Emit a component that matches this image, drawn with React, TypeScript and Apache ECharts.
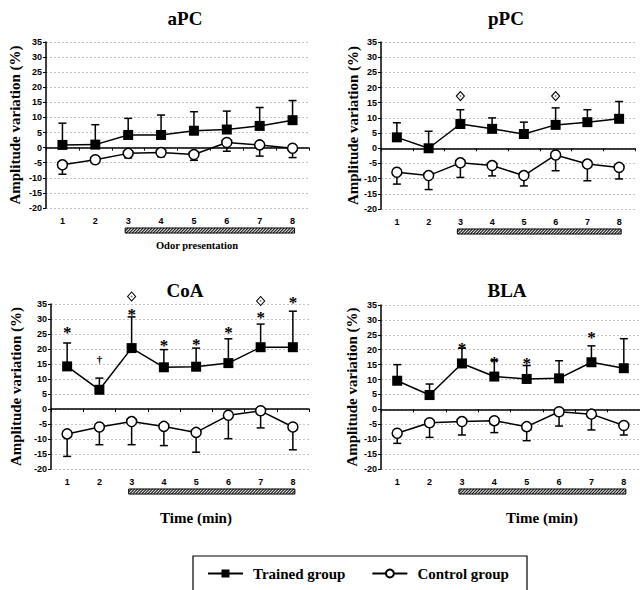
import React, { useEffect, useRef } from "react";
import * as echarts from "echarts";

const categories = ["1", "2", "3", "4", "5", "6", "7", "8"];
const yTicksMin = -20;
const yTicksMax = 35;
const yTickStep = 5;

const panelTitles = ["aPC", "pPC", "CoA", "BLA"];

// aPC
const trainedAPC = [0.9, 1.0, 4.2, 4.2, 5.6, 6.0, 7.2, 9.1];
const trainedAPCErr = [7.2, 6.6, 5.5, 6.6, 6.3, 6.1, 6.1, 6.5];
const controlAPC = [-5.7, -4.0, -1.9, -1.6, -2.3, 1.7, 0.9, -0.2];
const controlAPCErr = [3.1, 0.8, 1.5, 1.4, 1.9, 2.9, 3.7, 3.1];
const marksAPC: { cat: number; y: number; mark: string }[] = [];

// pPC
const trainedPPC = [3.6, 0.0, 8.0, 6.4, 4.7, 7.7, 8.6, 9.7];
const trainedPPCErr = [4.8, 5.6, 4.7, 3.6, 3.9, 5.6, 4.1, 5.7];
const controlPPC = [-7.9, -9.0, -4.8, -5.7, -9.0, -2.2, -5.2, -6.3];
const controlPPCErr = [3.9, 4.6, 4.8, 3.4, 3.4, 5.2, 5.5, 3.8];
const marksPPC = [
  { cat: 2, y: 17.2, mark: "◇" },
  { cat: 5, y: 17.2, mark: "◇" },
];

// CoA
const trainedCoA = [14.2, 6.4, 20.3, 13.9, 14.1, 15.3, 20.6, 20.6];
const trainedCoAErr = [7.8, 3.9, 10.4, 5.9, 6.2, 8.1, 7.7, 12.0];
const controlCoA = [-8.3, -6.0, -4.2, -5.8, -7.8, -2.1, -0.6, -6.0];
const controlCoAErr = [7.5, 5.9, 7.7, 6.4, 6.6, 7.8, 5.7, 7.6];
const marksCoA = [
  { cat: 0, y: 26.7, mark: "*" },
  { cat: 1, y: 16.7, mark: "†" },
  { cat: 2, y: 33.0, mark: "*" },
  { cat: 2, y: 37.5, mark: "◇" },
  { cat: 3, y: 22.6, mark: "*" },
  { cat: 4, y: 22.8, mark: "*" },
  { cat: 5, y: 27.0, mark: "*" },
  { cat: 6, y: 32.0, mark: "*" },
  { cat: 6, y: 36.0, mark: "◇" },
  { cat: 7, y: 36.8, mark: "*" },
];

// BLA
const trainedBLA = [9.6, 4.8, 15.4, 11.0, 10.2, 10.4, 15.8, 13.8];
const trainedBLAErr = [5.4, 3.7, 5.1, 5.5, 4.5, 5.9, 5.5, 9.9];
const controlBLA = [-8.0, -4.5, -4.1, -3.8, -5.8, -0.8, -1.6, -5.4];
const controlBLAErr = [3.4, 4.9, 4.5, 4.0, 4.7, 4.8, 5.3, 3.2];
const marksBLA = [
  { cat: 2, y: 21.9, mark: "*" },
  { cat: 3, y: 17.1, mark: "*" },
  { cat: 4, y: 16.8, mark: "*" },
  { cat: 6, y: 25.5, mark: "*" },
];

// odor presentation period (category indices, from minute 3 to minute 8)
const odorPeriod = [2, 7];

const trainedName = "Trained group";
const controlName = "Control group";

const panels = [
  { trained: trainedAPC, tErr: trainedAPCErr, control: controlAPC, cErr: controlAPCErr, marks: marksAPC },
  { trained: trainedPPC, tErr: trainedPPCErr, control: controlPPC, cErr: controlPPCErr, marks: marksPPC },
  { trained: trainedCoA, tErr: trainedCoAErr, control: controlCoA, cErr: controlCoAErr, marks: marksCoA },
  { trained: trainedBLA, tErr: trainedBLAErr, control: controlBLA, cErr: controlBLAErr, marks: marksBLA },
];

const grids = [
  { left: 46, top: 42, width: 263, height: 166, nameGap: 24, titleX: 185, titleY: 18 },
  { left: 381, top: 42, width: 254, height: 167, nameGap: 21, titleX: 506, titleY: 18 },
  { left: 51, top: 304, width: 258, height: 165, nameGap: 28, titleX: 185, titleY: 290 },
  { left: 381, top: 305, width: 262, height: 164, nameGap: 22, titleX: 507, titleY: 290 },
];

const SERIF = '"Liberation Serif", "Times New Roman", serif';
const SANS = '"Liberation Sans", Arial, sans-serif';

function errorBarItem(params: any, api: any) {
  const x = api.value(0);
  const p0 = api.coord([x, api.value(1)]);
  const p1 = api.coord([x, api.value(2)]);
  const st = { stroke: "#000", lineWidth: 1.5 };
  return {
    type: "group",
    children: [
      { type: "line", shape: { x1: p0[0], y1: p0[1], x2: p1[0], y2: p1[1] }, style: st },
      { type: "line", shape: { x1: p1[0] - 4, y1: p1[1], x2: p1[0] + 4, y2: p1[1] }, style: st },
    ],
  };
}

function hatchItem(params: any, api: any) {
  const a = api.coord([api.value(0), yTicksMin]);
  const b = api.coord([api.value(1), yTicksMin]);
  const x0 = a[0] - 3;
  const x1 = b[0] + 2;
  const h = 5;
  const yTop = a[1] + 20;
  const children: any[] = [
    { type: "rect", shape: { x: x0, y: yTop, width: x1 - x0, height: h }, style: { fill: "#fff", stroke: "none" } },
  ];
  for (let s = x0 - h; s < x1; s += 3) {
    const tMin = Math.max(0, (x0 - s) / h);
    const tMax = Math.min(1, (x1 - s) / h);
    if (tMin < tMax) {
      children.push({
        type: "line",
        shape: { x1: s + h * tMin, y1: yTop + h - h * tMin, x2: s + h * tMax, y2: yTop + h - h * tMax },
        style: { stroke: "#222", lineWidth: 1.1 },
      });
    }
  }
  children.push({
    type: "rect",
    shape: { x: x0, y: yTop, width: x1 - x0, height: h },
    style: { fill: "none", stroke: "#000", lineWidth: 1 },
  });
  return { type: "group", children };
}

function markItem(marks: { cat: number; y: number; mark: string }[]) {
  return (params: any, api: any) => {
    const m = marks[params.dataIndex];
    const pt = api.coord([api.value(0), api.value(1)]);
    if (m.mark === "◇") {
      return {
        type: "group",
        children: [
          {
            type: "polygon",
            shape: { points: [[pt[0], pt[1] - 4.5], [pt[0] + 4, pt[1]], [pt[0], pt[1] + 4.5], [pt[0] - 4, pt[1]]] },
            style: { fill: "#fff", stroke: "#000", lineWidth: 1.1 },
          },
          {
            type: "circle",
            shape: { cx: pt[0], cy: pt[1], r: 0.9 },
            style: { fill: "#777" },
          },
        ],
      };
    }
    let font = `bold 17px ${SERIF}`;
    let dy = 4;
    if (m.mark === "†") {
      font = `bold 11px ${SERIF}`;
      dy = 0;
    }
    return {
      type: "text",
      x: pt[0],
      y: pt[1] + dy,
      style: { text: m.mark, font, fill: "#000", align: "center", verticalAlign: "middle" },
    };
  };
}

function buildOption() {
  const grid: any[] = [];
  const xAxis: any[] = [];
  const yAxis: any[] = [];
  const series: any[] = [];
  const graphic: any[] = [];

  grids.forEach((g, p) => {
    grid.push({ left: g.left, top: g.top, width: g.width, height: g.height });
    xAxis.push({
      type: "category",
      gridIndex: p,
      data: categories,
      position: "bottom",
      axisLine: { onZero: true, lineStyle: { color: "#000", width: 1.5 } },
      axisTick: { show: true, length: 3, lineStyle: { color: "#000", width: 1 } },
      axisLabel: { show: false },
      splitLine: { show: false },
    });
    xAxis.push({
      type: "category",
      gridIndex: p,
      data: categories,
      position: "bottom",
      axisLine: { show: false, onZero: false },
      axisTick: { show: false },
      axisLabel: { show: true, margin: 8, color: "#000", fontFamily: SANS, fontWeight: "bold", fontSize: 9 },
      splitLine: { show: false },
    });
    yAxis.push({
      type: "value",
      gridIndex: p,
      min: yTicksMin,
      max: yTicksMax,
      interval: yTickStep,
      name: "Amplitude variation (%)",
      nameLocation: "middle",
      nameGap: g.nameGap,
      nameTextStyle: { color: "#000", fontFamily: SERIF, fontWeight: "bold", fontSize: 15 },
      axisLine: { show: true, lineStyle: { color: "#000", width: 1.5 } },
      axisTick: { show: true, length: 3, lineStyle: { color: "#000", width: 1 } },
      axisLabel: { margin: 4, color: "#000", fontFamily: SANS, fontWeight: "bold", fontSize: 9 },
      splitLine: { show: true, lineStyle: { color: "#c4c4c4", type: [2, 2], width: 1 } },
    });

    const d = panels[p];
    series.push({
      type: "custom",
      name: "trainedErr" + p,
      xAxisIndex: 2 * p,
      yAxisIndex: p,
      z: 1,
      encode: { x: 0, y: [1, 2] },
      renderItem: errorBarItem,
      data: d.trained.map((v, i) => [i, v, v + d.tErr[i]]),
    });
    series.push({
      type: "custom",
      name: "controlErr" + p,
      xAxisIndex: 2 * p,
      yAxisIndex: p,
      z: 1,
      encode: { x: 0, y: [1, 2] },
      renderItem: errorBarItem,
      data: d.control.map((v, i) => [i, v, v - d.cErr[i]]),
    });
    series.push({
      type: "line",
      name: trainedName,
      xAxisIndex: 2 * p,
      yAxisIndex: p,
      z: 3,
      data: d.trained,
      symbol: "rect",
      symbolSize: 10,
      showAllSymbol: true,
      itemStyle: { color: "#000" },
      lineStyle: { color: "#000", width: 1.5 },
    });
    series.push({
      type: "line",
      name: controlName,
      xAxisIndex: 2 * p,
      yAxisIndex: p,
      z: 3,
      data: d.control,
      symbol: "circle",
      symbolSize: 10,
      showAllSymbol: true,
      itemStyle: { color: "#fff", borderColor: "#000", borderWidth: 1.5 },
      lineStyle: { color: "#000", width: 1.5 },
    });
    series.push({
      type: "custom",
      name: "marks" + p,
      xAxisIndex: 2 * p,
      yAxisIndex: p,
      z: 4,
      clip: false,
      encode: { x: 0, y: 1 },
      renderItem: markItem(d.marks),
      data: d.marks.map((m) => [m.cat, m.y]),
    });
    series.push({
      type: "custom",
      name: "odor" + p,
      xAxisIndex: 2 * p,
      yAxisIndex: p,
      z: 2,
      clip: false,
      encode: { x: [0, 1] },
      renderItem: hatchItem,
      data: [odorPeriod],
    });

    graphic.push({
      type: "text",
      x: g.titleX,
      y: g.titleY,
      style: {
        text: panelTitles[p],
        font: `bold 19px ${SERIF}`,
        fill: "#000",
        align: "center",
        verticalAlign: "middle",
      },
    });
  });

  graphic.push({
    type: "text",
    x: 197,
    y: 245,
    style: { text: "Odor presentation", font: `bold 10.5px ${SERIF}`, fill: "#000", align: "center", verticalAlign: "middle" },
  });
  graphic.push({
    type: "text",
    x: 196,
    y: 518,
    style: { text: "Time (min)", font: `bold 15px ${SERIF}`, fill: "#000", align: "center", verticalAlign: "middle" },
  });
  graphic.push({
    type: "text",
    x: 542,
    y: 518,
    style: { text: "Time (min)", font: `bold 15px ${SERIF}`, fill: "#000", align: "center", verticalAlign: "middle" },
  });
  graphic.push({
    type: "rect",
    shape: { x: 193, y: 556, width: 334, height: 60 },
    style: { fill: "none", stroke: "#000", lineWidth: 1.2 },
  });

  return {
    animation: false,
    backgroundColor: "#fff",
    grid,
    xAxis,
    yAxis,
    series,
    graphic,
    legend: {
      data: [trainedName, controlName],
      left: 207,
      top: 566,
      padding: 0,
      itemWidth: 35,
      itemHeight: 10,
      itemGap: 26,
      selectedMode: false,
      textStyle: { color: "#000", fontFamily: SERIF, fontWeight: "bold", fontSize: 15, padding: [0, 0, 0, 5] },
    },
  };
}

export default function App() {
  const ref = useRef<HTMLDivElement>(null);
  useEffect(() => {
    if (!ref.current) return;
    const chart = echarts.init(ref.current, undefined, { renderer: "svg" });
    chart.setOption(buildOption() as any);
    return () => chart.dispose();
  }, []);
  return (
    <div
      ref={ref}
      style={{ position: "fixed", left: 0, top: 0, width: 640, height: 590, background: "#fff" }}
    />
  );
}
